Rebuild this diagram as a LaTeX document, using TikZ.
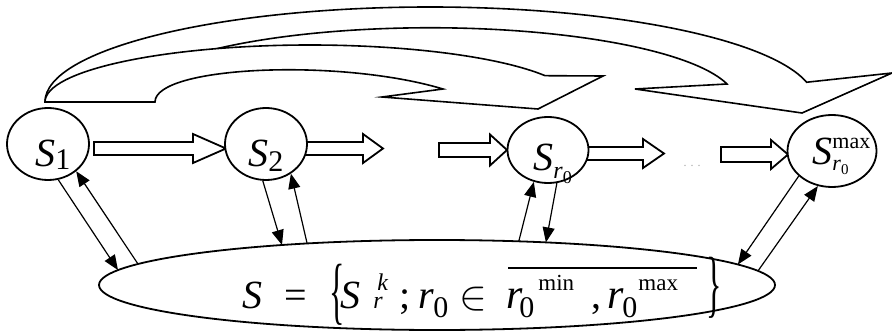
\documentclass[tikz,border=0pt]{standalone}
\usepackage{graphicx}
\usepackage{fontspec}
\setmainfont{Liberation Serif}
\newfontfamily\tnr{Liberation Serif}
\usetikzlibrary{arrows.meta,calc,shapes.geometric}
\newcommand\FntBig{\tnr\fontsize{20}{22}\selectfont}
\newcommand\FntSub{\tnr\fontsize{15}{16}\selectfont}
\newcommand\blockarr[6]{%
  \draw[blk] ({#1},{#6-#4}) -- ({#2},{#6-#4}) -- ({#2},{#6-#5}) -- ({#3},{#6})
    -- ({#2},{#6+#5}) -- ({#2},{#6+#4}) -- ({#1},{#6+#4}) -- cycle;}
\begin{document}
\begin{tikzpicture}[x=0.5pt,y=-0.5pt,
  st/.style={ellipse, draw, line width=0.9pt, fill=white, inner sep=0pt},
  lab/.style={inner sep=0pt, anchor=base west, font=\tnr},
  blk/.style={draw, line width=0.9pt, fill=white, line join=miter},
  thinarr/.style={line width=0.6pt, -{Triangle[length=7.5pt,width=6pt]}},
  curv/.style={draw, line width=0.8pt, fill=white, line join=miter}]
\useasboundingbox (0,0) rectangle (892,331);

% curved arrows (big one behind, small one in front)
\path[curv] (45,102) arc[start angle=180,end angle=348,x radius=385,y radius=95]
  -- (892,73) -- (802,113) -- (635,89) -- (727,84)
  arc[start angle=346.1,end angle=180,x radius=306,y radius=74] -- cycle;
\path[curv] (45,102) arc[start angle=180,end angle=332.5,x radius=265,y radius=57]
  -- (603,76) -- (538,109) -- (382,97) -- (443,89)
  .. controls (340,58) and (155,66) .. (155,102) -- cycle;

% block arrows: x0, xhead, xtip, shaft half, head half, ycenter
\blockarr{94}{193}{226}{6.5}{14.5}{148.5}
\blockarr{305}{363}{383}{6.5}{14.5}{148.5}
\blockarr{439}{490}{507}{7}{15.5}{150}
\blockarr{586}{643}{664}{6.5}{14.5}{153.5}
\blockarr{721}{771}{788}{7.5}{14.5}{154.5}

% state nodes
\node[st, minimum width=41pt, minimum height=36pt] (s1) at (48,144) {};
\node[st, minimum width=41pt, minimum height=36pt] (s2) at (266,144) {};
\node[st, minimum width=40.5pt, minimum height=33pt] (sr) at (548,150) {};
\node[st, minimum width=44.5pt, minimum height=36pt] (sm) at (832,151) {};
\node[ellipse, draw, line width=0.9pt, inner sep=0pt, minimum width=338pt, minimum height=45pt] (big) at (437,285) {};

\node[inner sep=0pt, text=gray!70] (dots) at (692,166) {\tnr\fontsize{6}{6}\selectfont . . .};

% points on the big ellipse
\coordinate (b1) at ($(big.center)+(-160.7:338 and 45)$);
\coordinate (b2) at ($(big.center)+(-152.2:338 and 45)$);
\coordinate (b3) at ($(big.center)+(-117.3:338 and 45)$);
\coordinate (b4) at ($(big.center)+(-112.6:338 and 45)$);
\coordinate (b5) at ($(big.center)+(-76:338 and 45)$);
\coordinate (b6) at ($(big.center)+(-71.2:338 and 45)$);
\coordinate (b7) at ($(big.center)+(-27.1:338 and 45)$);
\coordinate (b8) at ($(big.center)+(-18.25:338 and 45)$);

\draw[thinarr] (s1.-74.5) -- (b1);
\draw[thinarr] (b2) -- (s1.-44);
\draw[thinarr] (s2.-95) -- (b3);
\draw[thinarr] (b4) -- (s2.-50);
\draw[thinarr] (b5) -- (sr.-114);
\draw[thinarr] (sr.-75) -- (b6);
\draw[thinarr] (sm.-143) -- (b7);
\draw[thinarr] (b8) -- (sm.-112);

% node labels
\node[lab] (t1) at (35,167) {\FntBig\itshape S\upshape\raisebox{-1.5pt}{\FntSub 1}};
\node[lab] (t2) at (248,167) {\FntBig\itshape S\upshape\raisebox{-2pt}{\FntSub 2}};
\node[lab] (t3) at (533,170) {\FntBig\textit{S}\raisebox{-4pt}{\tnr\fontsize{12}{12}\selectfont\textit{r}\raisebox{-2.5pt}{\tnr\fontsize{9}{9}\selectfont 0}}};
\node[lab] (t4) at (812,165) {\FntBig\textit{S}\rlap{\raisebox{8.5pt}{\tnr\fontsize{11}{11}\selectfont max}}\raisebox{-2.5pt}{\tnr\fontsize{11}{11}\selectfont\textit{r}\raisebox{-2.5pt}{\tnr\fontsize{7.5}{8}\selectfont 0}}};

% formula
\node[lab] (f1) at (242,308) {\FntBig\textit{S}};
\node[lab] (f2) at (284,308) {\FntBig =};
\node[inner sep=0pt] (f3) at (337,295) {\scalebox{0.8}[1.85]{\FntBig\{}};
\node[lab] (f4) at (340,308) {\FntBig\textit{S}};
\node[lab] (f5) at (377,290) {\tnr\fontsize{12}{12}\selectfont\textit{k}};
\node[lab] (f6) at (373,308) {\tnr\fontsize{12}{12}\selectfont\textit{r}};
\node[lab] (f7) at (399,308) {\FntBig;};
\node[lab] (f8) at (418,308) {\FntBig\textit{r}};
\node[lab] (f9) at (433,317) {\FntSub 0};
\node[inner sep=0pt] (f10) at (473,299) {\fontsize{20}{20}\selectfont$\in$};
\node[lab] (f11) at (506,308) {\tnr\fontsize{21}{22}\selectfont\textit{r}};
\node[lab] (f12) at (519,317) {\FntSub 0};
\node[lab] (f13) at (538,290) {\tnr\fontsize{11.5}{12}\selectfont min};
\node[lab] (f14) at (591,308) {\FntBig,};
\node[lab] (f15) at (607,308) {\tnr\fontsize{21}{22}\selectfont\textit{r}};
\node[lab] (f16) at (622,317) {\FntSub 0};
\node[lab] (f17) at (638,290) {\tnr\fontsize{11.5}{12}\selectfont max};
\draw[line width=0.6pt] (508,268) -- (697,268);
\node[inner sep=0pt] (f18) at (714,288) {\scalebox{0.8}[1.85]{\FntBig\}}};
\end{tikzpicture}
\end{document}
